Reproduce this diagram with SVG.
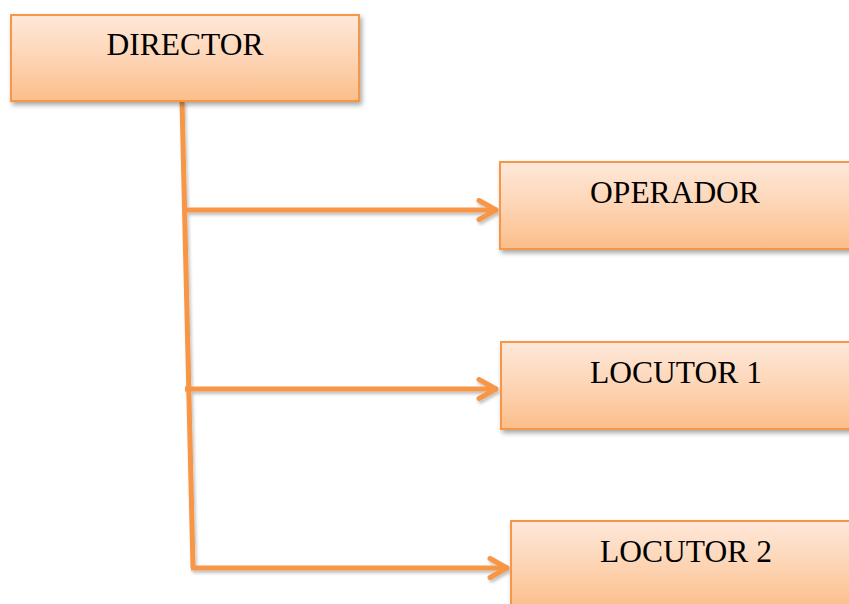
<svg xmlns="http://www.w3.org/2000/svg" width="849" height="604" viewBox="0 0 849 604">
<defs>
<linearGradient id="g" x1="0" y1="0" x2="0" y2="1">
<stop offset="0" stop-color="#FEE8DA"/>
<stop offset="0.5" stop-color="#FDD5B5"/>
<stop offset="1" stop-color="#FBBE8A"/>
</linearGradient>
<filter id="sh" x="-10%" y="-10%" width="130%" height="140%">
<feDropShadow dx="2" dy="3" stdDeviation="2.5" flood-color="#000" flood-opacity="0.35"/>
</filter>
<filter id="shl" filterUnits="userSpaceOnUse" x="0" y="0" width="849" height="604">
<feDropShadow dx="1.5" dy="2.5" stdDeviation="1.5" flood-color="#000" flood-opacity="0.25"/>
</filter>
<marker id="arr" markerUnits="userSpaceOnUse" markerWidth="30" markerHeight="30" refX="21" refY="12" orient="auto">
<path d="M 3 2.5 L 20 12 L 3 21.5" fill="none" stroke="#F79646" stroke-width="5" stroke-linecap="round" stroke-linejoin="round"/>
</marker>
<style>
.box{fill:url(#g);stroke:#F79646;stroke-width:2;filter:url(#sh)}
.lbl{font-family:"Liberation Serif","Times New Roman",serif;font-size:31.5px;fill:#000;text-anchor:middle}
.con{fill:none;stroke:#F79646;stroke-width:5}
</style>
</defs>
<g id="connectors" filter="url(#shl)">
<path class="con" d="M 182 101 L 193 568"/>
<path class="con" d="M 184 210 L 497 210" marker-end="url(#arr)"/>
<path class="con" d="M 185 389 L 497 389" marker-end="url(#arr)"/>
<path class="con" d="M 191 568 L 508 568" marker-end="url(#arr)"/>
</g>
<g id="director">
<rect class="box" x="11" y="15" width="348" height="86"/>
<text class="lbl" x="185" y="55">DIRECTOR</text>
</g>
<g id="operador">
<rect class="box" x="500" y="162" width="352" height="87"/>
<text class="lbl" x="675" y="203">OPERADOR</text>
</g>
<g id="locutor1">
<rect class="box" x="501" y="342" width="352" height="87"/>
<text class="lbl" x="676" y="383">LOCUTOR 1</text>
</g>
<g id="locutor2">
<rect class="box" x="511" y="521" width="352" height="87"/>
<text class="lbl" x="686" y="562">LOCUTOR 2</text>
</g>
</svg>
